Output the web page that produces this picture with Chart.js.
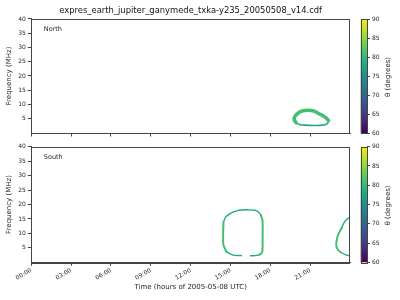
<!DOCTYPE html>
<html><head><meta charset="utf-8">
<script src="https://cdn.jsdelivr.net/npm/chart.js@4/dist/chart.umd.min.js"></script>
<style>
html,body{margin:0;padding:0;background:#fff;}
#wrap{position:relative;width:400px;height:300px;overflow:hidden;}
canvas{position:absolute;left:0;top:0;width:400px;height:300px;}
</style></head><body>
<div id="wrap">
<canvas id="cTop" width="400" height="300"></canvas>
<canvas id="cBot" width="400" height="300"></canvas>
<canvas id="cCb1" width="400" height="300"></canvas>
<canvas id="cCb2" width="400" height="300"></canvas>
</div>
<script>
// ---- data ----
const chartTitle = 'expres_earth_jupiter_ganymede_txka-y235_20050508_v14.cdf';
const tickHours = [0, 3, 6, 9, 12, 15, 18, 21];
const hourLabels = ['00:00', '03:00', '06:00', '09:00', '12:00', '15:00', '18:00', '21:00'];
const freqTicks = [5, 10, 15, 20, 25, 30, 35, 40];
const thetaTicks = [60, 65, 70, 75, 80, 85, 90];

// North hemisphere contour (hours, MHz, theta degrees)
const northUpperHours = [19.95, 19.8, 19.85, 20.1, 20.45, 20.85, 21.2, 21.55, 21.9, 22.2, 22.38];
const northUpperFreqs = [3.6, 4.6, 5.8, 7.0, 7.8, 8.0, 7.8, 7.1, 6.2, 5.3, 4.4];
const northUpperTheta = 81;
const northLowerHours = [22.38, 22.3, 21.95, 21.3, 20.6, 20.2, 19.95];
const northLowerFreqs = [4.4, 3.3, 2.75, 2.65, 2.75, 3.0, 3.6];
const northLowerTheta = 78;

// South hemisphere contours
const southAHours = [15.83, 15.2, 14.7];
const southAFreqs = [2.3, 2.5, 3.6];
const southATheta = 78;
const southBHours = [14.7, 14.47, 14.45, 14.47];
const southBFreqs = [3.6, 6.0, 9.8, 13.9];
const southBTheta = 81;
const southCHours = [14.47, 14.65, 15.03, 15.46, 15.93, 16.4, 16.83, 17.1, 17.3];
const southCFreqs = [13.9, 15.7, 17.0, 17.8, 18.1, 18.15, 18.0, 17.4, 16.2];
const southCTheta = 78;
const southDHours = [17.3, 17.41, 17.42, 17.41, 17.35, 17.16];
const southDFreqs = [16.2, 14.6, 9.5, 4.3, 3.2, 2.6];
const southDTheta = 81;
const southEHours = [17.16, 16.85, 16.51];
const southEFreqs = [2.6, 2.3, 2.25];
const southETheta = 78;
const southFHours = [24.05, 23.85, 23.6, 23.36];
const southFFreqs = [15.6, 15.2, 14.05, 11.8];
const southFTheta = 78;
const southGHours = [23.36, 23.1, 22.98, 22.98, 23.1];
const southGFreqs = [11.8, 9.45, 7.1, 5.4, 4.3];
const southGTheta = 81;
const southHHours = [23.1, 23.36, 23.73, 24.05];
const southHFreqs = [4.3, 3.3, 2.5, 2.25];
const southHTheta = 78;

const thetaMin = 60, thetaMax = 90;
const viridis = ['#440154','#482475','#414487','#355f8d','#2a788e','#21918c','#22a884','#44bf70','#7ad151','#bddf26','#fde725'];

// ---- helpers ----
function hex2rgb(h){return [parseInt(h.slice(1,3),16),parseInt(h.slice(3,5),16),parseInt(h.slice(5,7),16)];}
function thetaColor(t){
  let f=(t-thetaMin)/(thetaMax-thetaMin)*(viridis.length-1);
  f=Math.max(0,Math.min(viridis.length-1,f));
  const i=Math.min(Math.floor(f),viridis.length-2), r=f-i;
  const a=hex2rgb(viridis[i]), b=hex2rgb(viridis[i+1]);
  const c=a.map((v,k)=>Math.round(v+(b[k]-v)*r));
  return 'rgb('+c.join(',')+')';
}
function pts(hs,fs){return hs.map((h,i)=>({x:h,y:fs[i]}));}
function seg(hs,fs,theta,w){
  return {data:pts(hs,fs),showLine:true,borderColor:thetaColor(theta),borderWidth:w,pointRadius:0,tension:0.35,fill:false,borderCapStyle:'round',borderJoinStyle:'round'};
}

Chart.defaults.font.family = "'DejaVu Sans', sans-serif";
Chart.defaults.color = '#262626';
Chart.defaults.animation = false;

const frameColor = '#444';
const frame = {
  id:'frame',
  afterDraw(chart){
    const a=chart.chartArea, ctx=chart.ctx;
    ctx.save(); ctx.strokeStyle=frameColor; ctx.lineWidth=1;
    ctx.strokeRect(Math.round(a.left)+0.5,Math.round(a.top)+0.5,Math.round(a.right-a.left)-1,Math.round(a.bottom-a.top));
    ctx.restore();
  }
};
function panelLabel(text){
  return {id:'plabel',afterDraw(chart){
    const a=chart.chartArea, ctx=chart.ctx;
    ctx.save(); ctx.font="6.5px 'DejaVu Sans'"; ctx.fillStyle='#262626';
    ctx.textAlign='left'; ctx.textBaseline='middle';
    ctx.fillText(text,a.left+12.5,a.top+10.8); ctx.restore();
  }};
}

function xScale(showLabels, h){
  return {
    type:'linear', min:0, max:24,
    afterBuildTicks:(s)=>{s.ticks=tickHours.map(v=>({value:v}));},
    afterFit:(s)=>{s.height=h;},
    grid:{drawOnChartArea:false,drawTicks:true,tickLength:3.5,color:frameColor},
    border:{display:true,color:frameColor},
    ticks:{display:showLabels,autoSkip:false,minRotation:30,maxRotation:30,padding:1,font:{size:6},
      callback:(v)=>{const i=tickHours.indexOf(v);return i<0?'':hourLabels[i];}},
    title:{display:showLabels,text:'Time (hours of 2005-05-08 UTC)',font:{size:7},padding:{top:0,bottom:8.5}}
  };
}
function yScale(){
  return {
    type:'linear', min:0, max:40, position:'left',
    afterBuildTicks:(s)=>{s.ticks=freqTicks.map(v=>({value:v}));},
    afterFit:(s)=>{s.width=31.3;},
    grid:{drawOnChartArea:false,drawTicks:true,tickLength:3.5,color:frameColor},
    border:{display:true,color:frameColor},
    ticks:{font:{size:6},padding:2},
    title:{display:true,text:'Frequency (MHz)',font:{size:7},padding:{top:5,bottom:0}}
  };
}

new Chart(document.getElementById('cTop'),{
  type:'scatter',
  data:{datasets:[
    seg(northUpperHours,northUpperFreqs,northUpperTheta,3.6),
    seg(northLowerHours,northLowerFreqs,northLowerTheta,1.6)
  ]},
  options:{
    responsive:false, maintainAspectRatio:false,
    layout:{padding:{left:0,right:50,top:0,bottom:167-4}},
    plugins:{legend:{display:false},tooltip:{enabled:false},
      title:{display:true,text:chartTitle,fullSize:false,font:{size:8.4,weight:'normal'},color:'#111',padding:{top:6,bottom:2.9}}},
    scales:{x:xScale(false,4),y:yScale()}
  },
  plugins:[frame,panelLabel('North')]
});

new Chart(document.getElementById('cBot'),{
  type:'scatter',
  data:{datasets:[
    seg(southAHours,southAFreqs,southATheta,1.4),
    seg(southBHours,southBFreqs,southBTheta,2),
    seg(southCHours,southCFreqs,southCTheta,1.4),
    seg(southDHours,southDFreqs,southDTheta,2),
    seg(southEHours,southEFreqs,southETheta,1.4),
    seg(southFHours,southFFreqs,southFTheta,1.4),
    seg(southGHours,southGFreqs,southGTheta,2),
    seg(southHHours,southHFreqs,southHTheta,1.4)
  ]},
  options:{
    responsive:false, maintainAspectRatio:false,
    layout:{padding:{left:0,right:50,top:146.7,bottom:0}},
    plugins:{legend:{display:false},tooltip:{enabled:false}},
    scales:{x:xScale(true,37.7),y:yScale()}
  },
  plugins:[frame,panelLabel('South')]
});

function colorbar(id, top, bottom){
  const grad={id:'grad',beforeDraw(chart){
    const a=chart.chartArea, ctx=chart.ctx;
    const g=ctx.createLinearGradient(0,a.bottom,0,a.top);
    viridis.forEach((c,i)=>g.addColorStop(i/(viridis.length-1),c));
    ctx.save(); ctx.fillStyle=g; ctx.fillRect(a.left,a.top,a.right-a.left,a.bottom-a.top);
    ctx.strokeStyle=frameColor; ctx.lineWidth=1;
    ctx.strokeRect(Math.round(a.left)+0.5,Math.round(a.top)+0.5,Math.round(a.right-a.left),Math.round(a.bottom-a.top));
    ctx.font="7px 'DejaVu Sans'"; ctx.fillStyle='#262626'; ctx.textAlign='center'; ctx.textBaseline='middle';
    ctx.translate(388,(a.top+a.bottom)/2+1); ctx.rotate(-Math.PI/2);
    ctx.fillText('\u03b8 (degrees)',0,0);
    ctx.restore();
  }};
  new Chart(document.getElementById(id),{
    type:'scatter',
    data:{datasets:[{data:[]}]},
    options:{
      responsive:false, maintainAspectRatio:false,
      layout:{padding:{left:360.7,right:0,top:top,bottom:300-bottom}},
      plugins:{legend:{display:false},tooltip:{enabled:false}},
      scales:{
        x:{display:false,min:0,max:1},
        y:{type:'linear',position:'right',min:thetaMin,max:thetaMax,
          afterBuildTicks:(s)=>{s.ticks=thetaTicks.map(v=>({value:v}));},
          afterFit:(s)=>{s.width=33;},
          grid:{drawOnChartArea:false,drawTicks:true,tickLength:3,color:frameColor},
          border:{display:false},
          ticks:{font:{size:6},padding:2}}
      }
    },
    plugins:[grad]
  });
}
colorbar('cCb1',19,133);
colorbar('cCb2',146.7,262.3);
</script>
</body></html>
